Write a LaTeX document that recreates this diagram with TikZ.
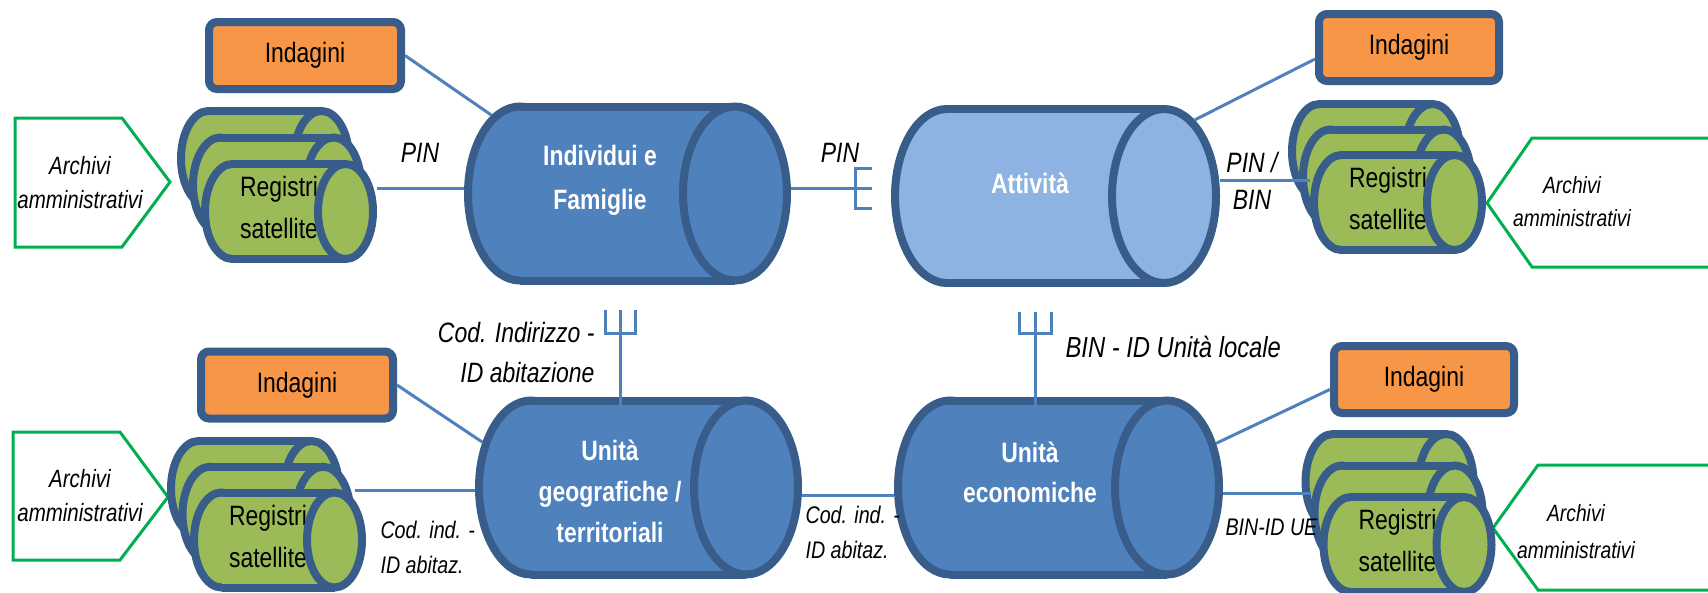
\documentclass[tikz,border=0pt]{standalone}
\usepackage{fontspec}
\setmainfont{Liberation Sans}[FakeStretch=0.82]
\usetikzlibrary{shapes.geometric, calc, positioning}
\definecolor{cylblue}{HTML}{4F81BD}
\definecolor{cylline}{HTML}{385D8A}
\definecolor{attblue}{HTML}{8DB3E2}
\definecolor{regfill}{HTML}{9BBB59}
\definecolor{indfill}{HTML}{F79646}
\definecolor{archline}{HTML}{00B050}

% back end and body of a drum: name, centre, half length, kind
\newcommand{\drum}[4]{%
    \node[#4 cap] (#1-l) at ($(#2)+(-#3,0)$) {};
    \node[#4 body, minimum width=2*#3] (#1) at (#2) {};
    \draw[rim] (#1.north west) -- (#1.north east) (#1.south west) -- (#1.south east);
}
% visible front end of a drum: name, kind
\newcommand{\drumend}[2]{\node[#2 cap] (#1-r) at (#1.east) {};}

\begin{document}
\begin{tikzpicture}[x=1pt, y=-1pt,
    rim/.style={draw=cylline, line width=8pt},
    big cap/.style={ellipse, rim, fill=cylblue, minimum width=104pt, minimum height=174pt, inner sep=0pt},
    big body/.style={fill=cylblue, minimum height=174pt, inner sep=0pt, outer sep=0pt},
    lite cap/.style={big cap, fill=attblue},
    lite body/.style={big body, fill=attblue},
    sat cap/.style={ellipse, rim, fill=regfill, minimum width=55pt, minimum height=95pt, inner sep=0pt},
    sat body/.style={fill=regfill, minimum height=95pt, inner sep=0pt, outer sep=0pt},
    survey/.style={draw=cylline, line width=8pt, fill=indfill, rounded corners=8pt,
        minimum height=67pt, inner sep=0pt, font=\fontsize{28}{34}\selectfont},
    archive/.style={draw=archline, line width=3pt, fill=white},
    cyltext/.style={text=white, align=center, font=\fontsize{28}{44}\selectfont\bfseries},
    regtext/.style={align=center, font=\fontsize{28}{42}\selectfont},
    keytext/.style={align=center, font=\fontsize{28}{38}\selectfont\itshape},
    smallkey/.style={align=left, anchor=west, font=\fontsize{24}{35}\selectfont\itshape},
    arctext/.style={align=center, font=\fontsize{25}{34}\selectfont\itshape},
    link/.style={draw=cylblue, line width=3pt},
]
    \useasboundingbox (0,0) rectangle (1708,592);

    % administrative archives
    \draw[archive] (15,118) -- (122,118) -- (170,182) -- (122,247) -- (15,247) -- cycle;
    \draw[archive] (13,432) -- (120,432) -- (168,497) -- (120,560) -- (13,560) -- cycle;
    \draw[archive] (1720,138) -- (1532,138) -- (1487,203) -- (1532,267) -- (1720,267) -- cycle;
    \draw[archive] (1720,465) -- (1538,465) -- (1493,528) -- (1538,590) -- (1720,590) -- cycle;
    \node[arctext] (arcTL) at (80,183) {Archivi\\amministrativi};
    \node[arctext] (arcBL) at (80,496) {Archivi\\amministrativi};
    \node[arctext, font=\fontsize{23.5}{33}\selectfont\itshape] (arcTR) at (1572,202) {Archivi\\amministrativi};
    \node[arctext, font=\fontsize{23.5}{37}\selectfont\itshape] (arcBR) at (1576,532) {Archivi\\amministrativi};

    % satellite registers, back to front
    \foreach \nm/\cx/\cy/\dx/\dy in {sTL/289/211.5/12/26.5, sTR/1398/202.5/11/25.5,
                                    sBL/278/540/11.5/25.75, sBR/1407.5/544.5/9/31.5} {
        \drum{\nm2}{\cx-2*\dx,\cy-2*\dy}{56.5}{sat}
        \drumend{\nm2}{sat}
        \drum{\nm1}{\cx-\dx,\cy-\dy}{56.5}{sat}
        \drumend{\nm1}{sat}
        \drum{\nm0}{\cx,\cy}{56.5}{sat}
        \node[regtext] (\nm-t) at (\cx-10,\cy-4) {Registri\\satellite};
        \drumend{\nm0}{sat}
    }

    % surveys
    \node[survey, minimum width=192pt] (survTL) at (305,55.5) {Indagini};
    \node[survey, minimum width=180pt] (survTR) at (1409,47.5) {Indagini};
    \node[survey, minimum width=192pt] (survBL) at (297,385) {Indagini};
    \node[survey, minimum width=180pt] (survBR) at (1424,379.5) {Indagini};

    % base registers
    \drum{indiv}{627.5,193.5}{107.5}{big}
    \drumend{indiv}{big}
    \drum{attiv}{1055.5,196}{108.5}{lite}
    \drumend{attiv}{lite}
    \drum{geo}{638.5,487.5}{107.5}{big}
    \drumend{geo}{big}
    \drum{econ}{1058.5,487.5}{108.5}{big}
    \drumend{econ}{big}
    \node[cyltext] (indiv-t) at (600,180) {Individui e\\Famiglie};
    \node[cyltext] (attiv-t) at (1030,183) {Attività};
    \node[cyltext, font=\fontsize{28}{41}\selectfont\bfseries] (geo-t) at (610,491) {Unità\\geografiche /\\territoriali};
    \node[cyltext, font=\fontsize{28}{40}\selectfont\bfseries] (econ-t) at (1030,472) {Unità\\economiche};

    % links
    \draw[link] (survTL.east) -- (indiv-l.110);
    \draw[link] (sTL0-r.east |- 0,188) -- (indiv-l.west |- 0,188);
    \coordinate (pinfoot) at (872,188);
    \draw[link] (indiv-r.east |- pinfoot) -- (pinfoot);
    \draw[link] ($(pinfoot)+(0,-20)$) -- ++(-17,0) -- ++(0,40) -- ++(17,0);
    \draw[link] (survTR.187) -- (attiv-r.68);
    \draw[link] (attiv-r.east |- 0,180) -- (sTR0-l.west |- 0,180);
    \coordinate (codfoot) at (620,310);
    \draw[link] (codfoot) -- (codfoot |- geo.north) -- ++(0,20);
    \draw[link] ($(codfoot)+(-15,0)$) -- ++(0,23) -- ++(30,0) -- ++(0,-23);
    \coordinate (binfoot) at (1035,312);
    \draw[link] (binfoot) -- (binfoot |- econ.north) -- ++(0,20);
    \draw[link] ($(binfoot)+(-16,0)$) -- ++(0,21) -- ++(32,0) -- ++(0,-21);
    \draw[link] (survBL.east) -- (geo-l.137);
    \draw[link] (sBL1-r.east |- 0,490) -- (geo-l.west |- 0,490);
    \draw[link] (geo-r.east |- 0,495) -- (econ-l.west |- 0,495);
    \draw[link] (survBR.186) -- (econ-r.42);
    \draw[link] (econ-r.east |- 0,493) -- (sBR1-l.west |- 0,493);

    % link keys
    \node[keytext] (pinL) at (420,153) {PIN};
    \node[keytext] (pinM) at (840,153) {PIN};
    \node[keytext, font=\fontsize{28}{37}\selectfont\itshape] (pinbin) at (1252,181) {PIN /\\BIN};
    \node[keytext, align=right, anchor=east, font=\fontsize{28}{40}\selectfont\itshape] (codaddr) at (598,352) {Cod. Indirizzo -\\ID abitazione};
    \node[keytext, anchor=west, font=\fontsize{29}{38}\selectfont\itshape] (binloc) at (1062,347) {BIN - ID Unità locale};
    \node[smallkey] (codL) at (377,547) {Cod. ind. -\\ID abitaz.};
    \node[smallkey] (codM) at (802,532) {Cod. ind. -\\ID abitaz.};
    \node[smallkey] (binue) at (1222,527) {BIN-ID UE};
\end{tikzpicture}
\end{document}
